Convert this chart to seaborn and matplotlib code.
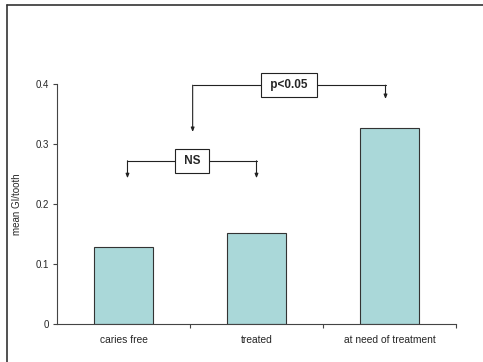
import matplotlib
matplotlib.use("Agg")
import matplotlib.pyplot as plt
import seaborn as sns
import pandas as pd
from matplotlib.lines import Line2D

categories = ["caries free", "treated", "at need of treatment"]
values = [0.129, 0.151, 0.327]
yticks = [0, 0.1, 0.2, 0.3, 0.4]
ytick_labels = ["0", "0.1", "0.2", "0.3", "0.4"]

sns.set_style("white")
plt.rcParams["font.family"] = ["Liberation Sans", "DejaVu Sans"]

fig = plt.figure(figsize=(4.83, 3.62), dpi=100)
ax = fig.add_axes([57/483, 1-324/362, (456-57)/483, (324-84)/362])

df = pd.DataFrame({"group": categories, "value": values})
sns.barplot(data=df, x="group", y="value", ax=ax, color="#aad8d9",
            saturation=1, edgecolor="#333333", linewidth=0.8, width=0.44)

ax.set_xlim(-0.5, 2.5)
ax.set_ylim(0, 0.4)
ax.set_yticks(yticks)
ax.set_yticklabels(ytick_labels)
ax.set_xlabel("")
ax.set_ylabel("mean GI/tooth", fontsize=7)
ax.yaxis.set_label_coords((22 - 57) / 399, 0.5)
for s in ["top", "right"]:
    ax.spines[s].set_visible(False)
for s in ["left", "bottom"]:
    ax.spines[s].set_color("#444444")
    ax.spines[s].set_linewidth(0.8)
ax.tick_params(axis="y", labelsize=7, length=3, width=0.8, color="#444444", pad=3, left=True)
ax.tick_params(axis="x", which="major", labelsize=7.4, length=0, pad=8)
ax.set_xticks([0.5, 1.5, 2.5], minor=True)
ax.tick_params(axis="x", which="minor", length=3, width=0.8, color="#444444", bottom=True)

lc = "#222222"
def bracket(x1, x2, y, tip1, tip2, label):
    ax.plot([x1, x2], [y, y], color=lc, lw=0.8, clip_on=False)
    for xx, tip in ((x1, tip1), (x2, tip2)):
        ax.annotate("", xy=(xx, tip), xytext=(xx, y),
                    arrowprops=dict(arrowstyle="-|>,head_length=0.25,head_width=0.1",
                                    color=lc, lw=0.8, shrinkA=0, shrinkB=0),
                    annotation_clip=False)
    ax.text((x1 + x2) / 2, y, " " + label + " ", ha="center", va="center", fontsize=8.5,
            fontweight="bold",
            bbox=dict(boxstyle="square,pad=0.5", fc="white", ec=lc, lw=0.8))

bracket(0.03, 1.0, 0.272, 0.243, 0.243, "NS")
bracket(0.52, 1.97, 0.398, 0.32, 0.375, "p<0.05")

fig.add_artist(Line2D([7/483, 1.0], [1-5/362, 1-5/362], color="#333333", lw=1.2))
fig.add_artist(Line2D([7/483, 7/483], [0, 1-5/362], color="#333333", lw=1.2))

fig.savefig("out.png", dpi=100)
